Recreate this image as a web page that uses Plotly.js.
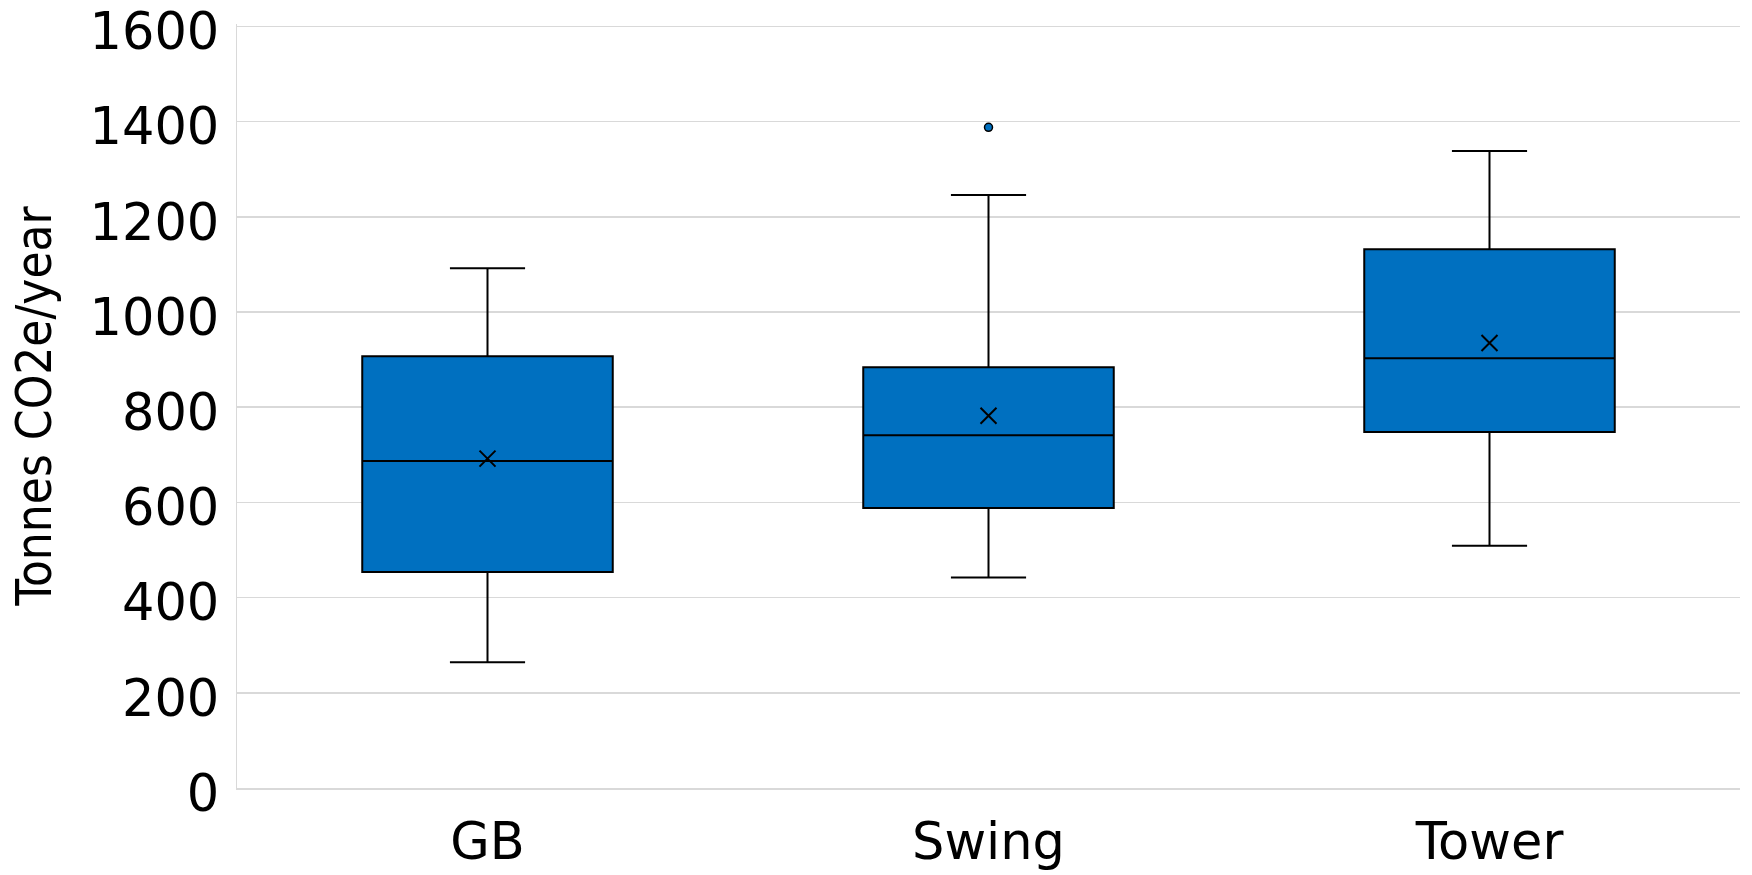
<!DOCTYPE html>
<html>
<head>
<meta charset="utf-8">
<script src="https://cdn.plot.ly/plotly-3.0.1.min.js"></script>
<style>
  html, body { margin: 0; padding: 0; background: #ffffff; }
  #chart { width: 1752px; height: 875px; }
</style>
</head>
<body>
<div id="chart"></div>
<script>
const categories = ["GB", "Swing", "Tower"];
const lowerWhisker = [264, 442, 509];
const q1Values = [454, 588, 748];
const medianValues = [687, 741, 903];
const q3Values = [907, 884, 1132];
const upperWhisker = [1092, 1246, 1338];
const meanValues = [692, 782, 935];
const outlierCategories = ["Swing"];
const outlierValues = [1388];
const yTickValues = [0, 200, 400, 600, 800, 1000, 1200, 1400, 1600];

const boxColor = "#0070C0";
const tickFont = { family: "DejaVu Sans, Verdana, sans-serif", size: 51, color: "#000000" };

const traces = [
  {
    type: "box",
    x: categories,
    q1: q1Values,
    median: medianValues,
    q3: q3Values,
    lowerfence: lowerWhisker,
    upperfence: upperWhisker,
    width: 0.5,
    fillcolor: boxColor,
    line: { color: "#000000", width: 2 },
    whiskerwidth: 0.3,
    boxpoints: false,
    showlegend: false,
    hoverinfo: "skip"
  },
  {
    type: "scatter",
    mode: "markers",
    x: categories,
    y: meanValues,
    marker: { symbol: "x-thin", size: 16, color: "#000000", line: { color: "#000000", width: 2 } },
    showlegend: false,
    hoverinfo: "skip"
  },
  {
    type: "scatter",
    mode: "markers",
    x: outlierCategories,
    y: outlierValues,
    marker: { symbol: "circle", size: 8, color: boxColor, line: { color: "#000000", width: 1.5 } },
    showlegend: false,
    hoverinfo: "skip"
  }
];

const layout = {
  width: 1752,
  height: 875,
  paper_bgcolor: "#ffffff",
  plot_bgcolor: "#ffffff",
  margin: { l: 237, r: 12, t: 24, b: 87, pad: 0 },
  xaxis: {
    type: "category",
    categoryorder: "array",
    categoryarray: categories,
    range: [-0.5, 2.5],
    showgrid: false,
    showline: true,
    linecolor: "#d9d9d9",
    linewidth: 1.5,
    ticks: "",
    tickfont: { family: "DejaVu Sans, Verdana, sans-serif", size: 51, color: "#000000" },
    ticklabelstandoff: 8,
    zeroline: false,
    fixedrange: true
  },
  yaxis: {
    range: [0, 1605],
    tickvals: yTickValues,
    ticktext: yTickValues.map(String),
    showgrid: true,
    gridcolor: "#d9d9d9",
    gridwidth: 1.5,
    showline: true,
    linecolor: "#d9d9d9",
    linewidth: 1.5,
    zeroline: false,
    ticks: "",
    tickfont: tickFont,
    ticklabelstandoff: 6,
    ticklabelshift: 5,
    ticklabeloverflow: "allow",
    title: {
      text: "Tonnes CO2e/year",
      font: { family: "DejaVu Sans Condensed, DejaVu Sans, sans-serif", size: 49, color: "#000000" },
      standoff: 22
    },
    automargin: false,
    fixedrange: true
  },
  showlegend: false
};

Plotly.newPlot("chart", traces, layout, { staticPlot: true, displayModeBar: false });
</script>
</body>
</html>
